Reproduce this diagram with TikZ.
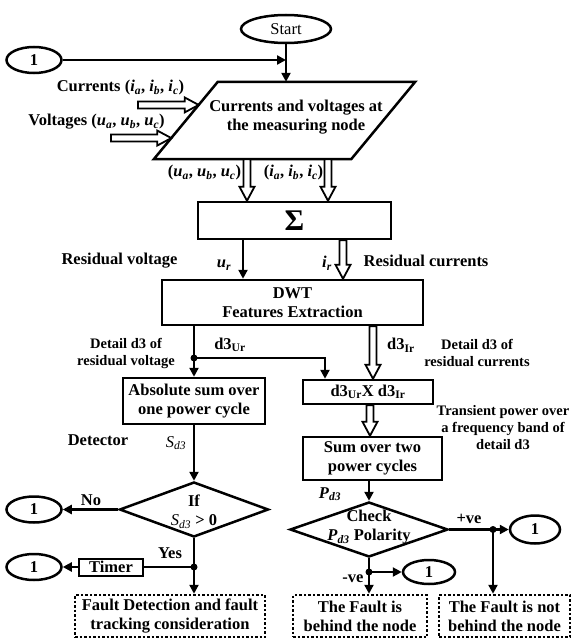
\documentclass[tikz,border=0pt]{standalone}
\usepackage{fontspec}
\setmainfont{Liberation Serif}
\usetikzlibrary{arrows.meta,calc,shapes.geometric}
\newcommand{\vi}[2]{\textit{#1}\textsubscript{\textit{#2}}}
\tikzset{
  box/.style={draw, line width=2.5pt},
  oval/.style={draw, ellipse, line width=2.5pt},
  dbox/.style={draw, line width=2.5pt, dash pattern=on 2.5pt off 2pt},
  small/.style={font=\fontsize{14.5}{17}\selectfont\bfseries},
  arr/.style={line width=2.5pt, -{Triangle[length=9pt,width=9pt]}},
  ln/.style={line width=2.5pt},
  jdot/.style={circle, fill, minimum size=7pt},
  dia/.style={draw, diamond, line width=2.5pt},
  hollow/.style={draw, fill=white, line width=1.8pt, line join=miter, to path={
    ($(\tikztostart)!3.5pt!90:(\tikztotarget)$) --
    ($($(\tikztotarget)!14pt!(\tikztostart)$)!3.5pt!-90:(\tikztostart)$) --
    ($($(\tikztotarget)!14pt!(\tikztostart)$)!7.5pt!-90:(\tikztostart)$) --
    (\tikztotarget) --
    ($($(\tikztotarget)!14pt!(\tikztostart)$)!7.5pt!90:(\tikztostart)$) --
    ($($(\tikztotarget)!14pt!(\tikztostart)$)!3.5pt!90:(\tikztostart)$) --
    ($(\tikztostart)!3.5pt!-90:(\tikztotarget)$) -- cycle}}
}
\begin{document}
\begin{tikzpicture}[x=1pt,y=-1pt,
  every node/.style={font=\fontsize{16.5}{19}\selectfont\bfseries, inner sep=0pt, align=center}]
\useasboundingbox (0,0) rectangle (575,642);

% start and input
\node[oval, minimum width=90pt, minimum height=28pt, font=\fontsize{16.5}{19}\selectfont] (start) at (286,29) {Start};
\node[oval, minimum width=55pt, minimum height=26pt] (oneA) at (34,60) {1};
\node[minimum width=197pt, minimum height=77pt] (meas) at (284.5,120.5) {};
\draw[ln] ([xshift=32pt]meas.north west) coordinate (pTL) -- ([xshift=32pt]meas.north east)
  -- ([xshift=-32pt]meas.south east) -- ([xshift=-32pt]meas.south west) coordinate (pBL) -- cycle;
\node (meastext) at (296,117.5) {Currents and voltages at\\the measuring node};
\draw[arr] (start.south) -- (start.south |- meas.north);
\draw[arr] (oneA.east) -- (oneA.east -| start.south);

\coordinate (cT) at ($(pTL)!0.299!(pBL)$);
\coordinate (vT) at ($(pTL)!0.727!(pBL)$);
\coordinate (cS) at (cT -| 138,0);
\coordinate (vS) at (vT -| 111,0);
\draw[hollow] (cS) to (cT);
\draw[hollow] (vS) to (vT);
\node (curlab) at (120.5,88) {Currents (\vi{i}{a}, \vi{i}{b}, \vi{i}{c})};
\node (vollab) at (96.5,122) {Voltages (\vi{u}{a}, \vi{u}{b}, \vi{u}{c})};

% sigma
\node[box, minimum width=193pt, minimum height=37pt, font=\fontsize{30}{30}\selectfont\bfseries] (sigma) at (294.5,220.5) {Σ};
\coordinate (h1s) at (meas.south -| 247,0);
\coordinate (h1t) at (sigma.north -| 247,0);
\coordinate (h2s) at (meas.south -| 328,0);
\coordinate (h2t) at (sigma.north -| 328,0);
\draw[hollow] (h1s) to (h1t);
\draw[hollow] (h2s) to (h2t);
\node (ualab) at (204.5,173) {(\vi{u}{a}, \vi{u}{b}, \vi{u}{c})};
\node (ialab) at (293.5,173) {(\vi{i}{a}, \vi{i}{b}, \vi{i}{c})};

% DWT
\node[box, minimum width=261pt, minimum height=45pt] (dwt) at (292.5,302.5) {DWT\\Features Extraction};
\draw[arr] (sigma.south -| 243,0) -- (dwt.north -| 243,0);
\coordinate (h3s) at (sigma.south -| 343,0);
\coordinate (h3t) at (dwt.north -| 343,0);
\draw[hollow] (h3s) to (h3t);
\node (urlab) at (224,265) {\vi{u}{r}};
\node (rvlab) at (119.5,261) {Residual voltage};
\node (irlab) at (327,263) {\vi{i}{r}};
\node (rclab) at (426,261) {Residual currents};

% second stage
\node[box, minimum width=142pt, minimum height=46pt] (abs) at (194,401) {Absolute sum over\\one power cycle};
\node[box, minimum width=130pt, minimum height=24pt] (prod) at (368,392) {d3\textsubscript{Ur}X d3\textsubscript{Ir}};
\node[box, minimum width=139pt, minimum height=43pt] (sum) at (372.5,458.5) {Sum over two\\power cycles};
\node[jdot] (dj1) at (194,358) {};
\draw[ln] (dwt.south -| dj1) -- (dj1.center);
\draw[arr] (dj1.center) -- (abs.north);
\draw[arr] (dj1.center) -| (prod.north -| 325,0);
\coordinate (h4s) at (dwt.south -| 373,0);
\coordinate (h4t) at (prod.north -| 373,0);
\draw[hollow] (h4s) to (h4t);
\coordinate (h5s) at (prod.south -| 370,0);
\coordinate (h5t) at (sum.north -| 370,0);
\draw[hollow] (h5s) to (h5t);
\node (d3ulab) at (230,345) {d3\textsubscript{Ur}};
\node[small] (dvlab) at (126,353) {Detail d3 of\\residual voltage};
\node (d3ilab) at (401,345) {d3\textsubscript{Ir}};
\node[small] (dclab) at (477,353) {Detail d3 of\\residual currents};
\node[small] (tplab) at (503,428) {Transient power over\\a frequency band of\\detail d3};

% polarity check
\node[dia, minimum width=158pt, minimum height=55pt,
  label={[yshift=2pt]center:{Check\\\vi{P}{d3} Polarity}}] (check) at (369,529.5) {};
\draw[arr] (check.north |- sum.south) -- (check.north);
\node (pdlab) at (330,494) {\vi{P}{d3}};
\node[jdot] (dj3) at (493,529.5) {};
\draw[ln] (check.east) -- (dj3.center);
\node[oval, minimum width=50pt, minimum height=28pt] (oneR1) at (535,529.5) {1};
\draw[arr] (dj3.center) -- (oneR1.west);
\node (pvlab) at (469,519) {+ve};
\node[dbox, minimum width=131pt, minimum height=42pt] (nb) at (504.5,616) {The Fault is not\\behind the node};
\draw[arr] (dj3.center) -- (dj3.center |- nb.north);
\node[jdot] (dj4) at (369,572) {};
\draw[ln] (check.south) -- (dj4.center);
\node[oval, minimum width=52pt, minimum height=24pt] (oneR2) at (429,572) {1};
\draw[arr] (dj4.center) -- (oneR2.west);
\node (nvlab) at (353,579) {-ve};
\node[dbox, minimum width=134pt, minimum height=42pt] (bh) at (360,616) {The Fault is\\behind the node};
\draw[arr] (dj4.center) -- (dj4.center |- bh.north);

% detector
\node[dia, minimum width=149pt, minimum height=55pt,
  label={[yshift=-2pt]center:{If\\{\mdseries\itshape S\textsubscript{d3}} > 0}}] (ifd) at (194,509.5) {};
\draw[arr] (abs.south) -- (ifd.north);
\node (detlab) at (98,440) {Detector};
\node[font=\fontsize{16.5}{19}\selectfont\itshape] (sdlab) at (176,443) {S\textsubscript{d3}};
\node[oval, minimum width=55pt, minimum height=26pt] (oneL1) at (34,509.5) {1};
\draw[arr] (ifd.west) -- (oneL1.east);
\node (nolab) at (91,500) {No};
\node[jdot] (dj2) at (194,567) {};
\draw[ln] (ifd.south) -- (dj2.center);
\node[box, line width=2pt, minimum width=64pt, minimum height=17pt] (timer) at (111,567) {Timer};
\draw[ln] (dj2.center) -- (timer.east);
\node[oval, minimum width=55pt, minimum height=26pt] (oneL2) at (34,567) {1};
\draw[arr] (timer.west) -- (oneL2.east);
\node (yeslab) at (170,553) {Yes};
\node[dbox, minimum width=190pt, minimum height=42pt] (fd) at (170,616) {Fault Detection and fault\\tracking consideration};
\draw[arr] (dj2.center) -- (dj2.center |- fd.north);
\end{tikzpicture}
\end{document}
